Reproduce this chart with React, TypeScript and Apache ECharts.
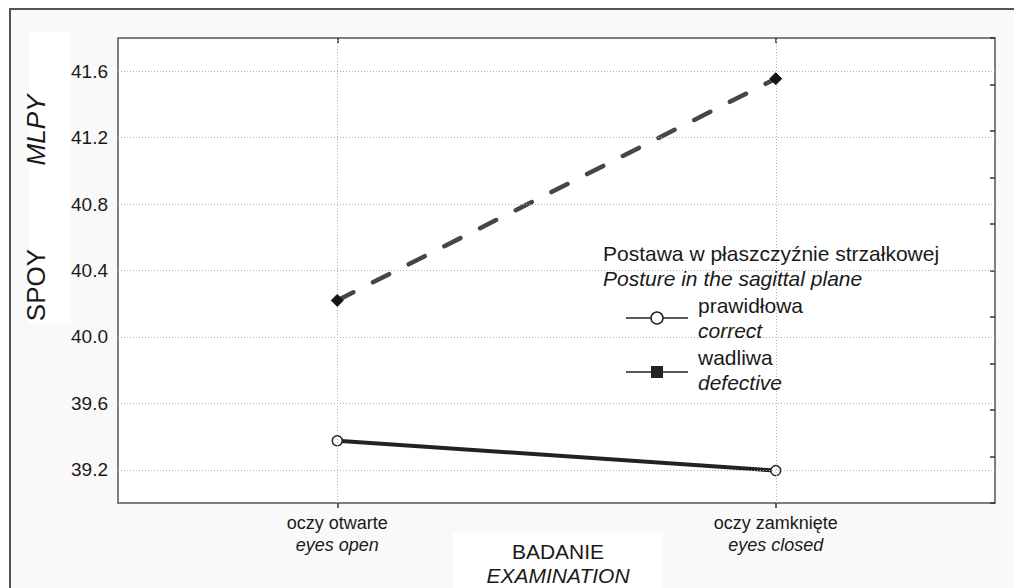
import React, { useEffect, useRef } from "react";
import * as echarts from "echarts";

const categories = ["oczy otwarte", "oczy zamknięte"];
const categoriesEn = ["eyes open", "eyes closed"];
const correctValues = [39.375, 39.195];
const defectiveValues = [40.22, 41.555];
const yTickLabels = [39.2, 39.6, 40.0, 40.4, 40.8, 41.2, 41.6];
const yMin = 39.0;
const yMax = 41.8;

const FONT = "'Liberation Sans', Arial, Helvetica, sans-serif";
const TXT = "#1a1a1a";

export default function App() {
  const ref = useRef<HTMLDivElement>(null);
  useEffect(() => {
    document.body.style.margin = "0";
    const chart = echarts.init(ref.current!, null, { renderer: "svg" });
    const option: any = {
      animation: false,
      textStyle: { fontFamily: FONT },
      grid: {
        left: 118,
        top: 38,
        right: 19,
        bottom: 85,
        show: true,
        backgroundColor: "#ffffff",
        borderColor: "#555555",
        borderWidth: 1.5,
        z: 0,
      },
      xAxis: [
        {
          type: "category",
          data: categories,
          boundaryGap: true,
          axisLine: { show: false },
          axisTick: { show: true, alignWithLabel: true, length: 5, lineStyle: { color: "#333", width: 1.5 } },
          splitLine: { show: false },
          axisLabel: {
            margin: 9,
            fontFamily: FONT,
            formatter: (v: string) => {
              const i = categories.indexOf(v);
              return v + "\n{i|" + categoriesEn[i] + "}";
            },
            color: TXT,
            fontSize: 18,
            lineHeight: 22,
            rich: { i: { fontStyle: "italic", fontSize: 18, lineHeight: 22, color: TXT, fontFamily: FONT } },
          },
        },
        {
          type: "category",
          data: categories,
          position: "top",
          boundaryGap: true,
          axisLine: { show: false },
          axisTick: { show: true, inside: true, alignWithLabel: true, length: 5, lineStyle: { color: "#333", width: 1.5 } },
          axisLabel: { show: false },
          splitLine: { show: false },
        },
      ],
      yAxis: [
        {
          type: "value",
          min: yMin,
          max: yMax,
          interval: 0.2,
          axisLine: { show: false },
          axisTick: { show: false },
          splitLine: { show: false },
          axisLabel: {
            margin: 10,
            color: TXT,
            fontSize: 19,
            fontFamily: FONT,
            formatter: (v: number) => {
              const hit = yTickLabels.find((t) => Math.abs(t - v) < 1e-6);
              return hit !== undefined ? hit.toFixed(1) : "";
            },
          },
        },
        {
          type: "value",
          position: "right",
          min: 0,
          max: 10,
          interval: 1,
          axisLine: { show: false },
          axisTick: { show: true, inside: true, length: 5, lineStyle: { color: "#333", width: 1.5 } },
          axisLabel: { show: false },
          splitLine: { show: false },
        },
      ],
      series: [
        {
          name: "grid",
          type: "line",
          data: [],
          z: 1,
          silent: true,
          markLine: {
            silent: true,
            symbol: ["none", "none"],
            label: { show: false },
            animation: false,
            lineStyle: { color: "#b0b0b0", width: 1, type: [1, 2] },
            data: [
              ...yTickLabels.map((v) => ({ yAxis: v })),
              ...categories.map((c) => ({ xAxis: c })),
            ],
          },
        },
        {
          name: "wadliwa",
          type: "line",
          data: defectiveValues,
          z: 3,
          showSymbol: false,
          symbol: "none",
          lineStyle: { color: "#464646", width: 4.5, type: [18, 22], cap: "round" },
        },
        {
          name: "wadliwa-points",
          type: "scatter",
          data: defectiveValues,
          z: 5,
          symbol: "diamond",
          symbolSize: 12,
          itemStyle: { color: "#161616", borderColor: "#161616", borderWidth: 1, opacity: 1 },
        },
        {
          name: "prawidłowa",
          type: "line",
          data: correctValues,
          z: 4,
          symbol: "circle",
          symbolSize: 10,
          lineStyle: { color: "#222222", width: 4 },
          itemStyle: { color: "#ffffff", borderColor: "#222222", borderWidth: 1.5 },
        },
      ],
      graphic: [
        {
          type: "rect",
          z: -10,
          silent: true,
          shape: { x: 10, y: 9, width: 1020, height: 600 },
          style: { fill: "#f9f9f9", stroke: "#555555", lineWidth: 2 },
        },
        {
          type: "rect",
          z: 10,
          silent: true,
          shape: { x: 29, y: 32, width: 41, height: 291 },
          style: { fill: "#ffffff" },
        },
        {
          type: "text",
          z: 11,
          x: 36,
          y: 285,
          rotation: Math.PI / 2,
          style: { text: "SPOY", fontSize: 26, fontFamily: FONT, fill: TXT, align: "center", verticalAlign: "middle" },
        },
        {
          type: "text",
          z: 11,
          x: 36,
          y: 130,
          rotation: Math.PI / 2,
          style: { text: "MLPY", fontSize: 26, fontStyle: "italic", fontFamily: FONT, fill: TXT, align: "center", verticalAlign: "middle" },
        },
        {
          type: "rect",
          z: 10,
          silent: true,
          shape: { x: 453, y: 533, width: 210, height: 60 },
          style: { fill: "#ffffff" },
        },
        {
          type: "text",
          z: 11,
          x: 558,
          y: 563,
          style: {
            text: "BADANIE\n{i|EXAMINATION}",
            fontSize: 21,
            lineHeight: 24,
            fontFamily: FONT,
            fill: TXT,
            align: "center",
            verticalAlign: "middle",
            rich: { i: { fontStyle: "italic", fontSize: 21, lineHeight: 24, fontFamily: FONT, fill: TXT } },
          },
        },
        {
          type: "text",
          z: 11,
          x: 603,
          y: 266,
          style: {
            text: "Postawa w płaszczyźnie strzałkowej\n{i|Posture in the sagittal plane}",
            fontSize: 21,
            lineHeight: 25,
            fontFamily: FONT,
            fill: TXT,
            align: "left",
            verticalAlign: "middle",
            rich: { i: { fontStyle: "italic", fontSize: 21, lineHeight: 25, fontFamily: FONT, fill: TXT } },
          },
        },
        {
          type: "line",
          z: 11,
          shape: { x1: 626, y1: 318, x2: 688, y2: 318 },
          style: { stroke: "#222", lineWidth: 1.5 },
        },
        {
          type: "circle",
          z: 12,
          shape: { cx: 657, cy: 318, r: 6 },
          style: { fill: "#ffffff", stroke: "#222", lineWidth: 1.5 },
        },
        {
          type: "text",
          z: 11,
          x: 698,
          y: 318,
          style: {
            text: "prawidłowa\n{i|correct}",
            fontSize: 21,
            lineHeight: 25,
            fontFamily: FONT,
            fill: TXT,
            align: "left",
            verticalAlign: "middle",
            rich: { i: { fontStyle: "italic", fontSize: 21, lineHeight: 25, fontFamily: FONT, fill: TXT } },
          },
        },
        {
          type: "line",
          z: 11,
          shape: { x1: 626, y1: 372, x2: 688, y2: 372 },
          style: { stroke: "#222", lineWidth: 1.5 },
        },
        {
          type: "rect",
          z: 12,
          shape: { x: 651, y: 366, width: 12, height: 12 },
          style: { fill: "#222222" },
        },
        {
          type: "text",
          z: 11,
          x: 698,
          y: 369.5,
          style: {
            text: "wadliwa\n{i|defective}",
            fontSize: 21,
            lineHeight: 25,
            fontFamily: FONT,
            fill: TXT,
            align: "left",
            verticalAlign: "middle",
            rich: { i: { fontStyle: "italic", fontSize: 21, lineHeight: 25, fontFamily: FONT, fill: TXT } },
          },
        },
      ],
    };
    chart.setOption(option);
    return () => chart.dispose();
  }, []);
  return <div ref={ref} style={{ width: 1014, height: 588 }} />;
}
